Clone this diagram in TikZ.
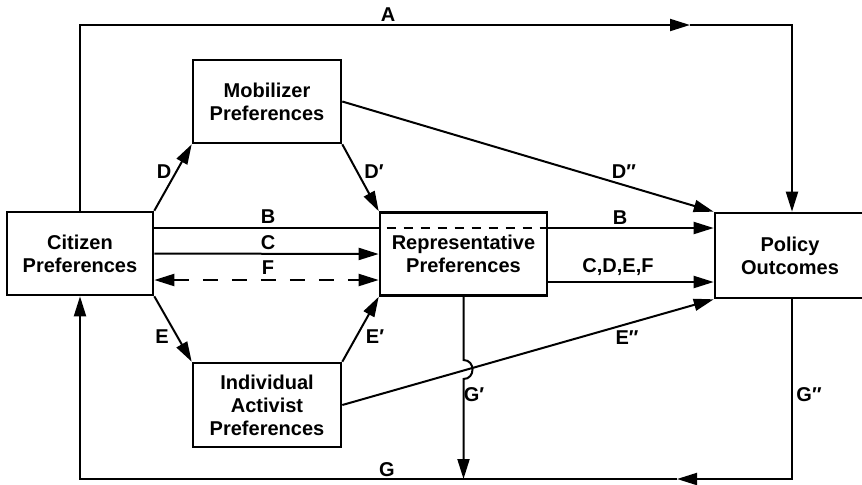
\documentclass[tikz,border=0pt]{standalone}
\usepackage{fontspec}
\setmainfont{Liberation Sans}
\usetikzlibrary{arrows.meta}

\begin{document}
\begin{tikzpicture}[x=0.5pt,y=-0.5pt,
    font=\bfseries\fontsize{10}{11.5}\selectfont,
    box/.style={draw,line width=1.3pt,align=center,minimum height=41.5pt,inner sep=0pt},
    arr/.style={line width=1pt,-{Triangle[length=10pt,width=6pt]}},
    twoarr/.style={line width=1pt,{Triangle[length=10pt,width=6pt]}-{Triangle[length=10pt,width=6pt]}},
    lbl/.style={inner sep=0pt}]
  \useasboundingbox (0,0) rectangle (862,484);
  % boxes
  \node[box,minimum width=73pt] (cit) at (80,253.5) {Citizen\\Preferences};
  \node[box,minimum width=74pt] (mob) at (267,101.5) {Mobilizer\\Preferences};
  \node[box,minimum width=83.5pt] (rep) at (463.5,254) {Representative\\Preferences};
  \node[box,minimum width=74pt,minimum height=42pt] (ind) at (267,405) {Individual\\Activist\\Preferences};
  \node[box,minimum width=75pt,minimum height=42.5pt] (pol) at (790,255.5) {Policy\\Outcomes};
  % corners and levels
  \coordinate (aL) at (80,25);
  \coordinate (aM) at (690,25);
  \coordinate (aR) at (792,25);
  \coordinate (gL) at (80,479);
  \coordinate (gM) at (677,479);
  \coordinate (gR) at (792,479);
  \coordinate (yB) at (0,228);
  \coordinate (yF) at (0,280);
  \coordinate (yX) at (0,282);
  \coordinate (h1) at (0,360);
  \coordinate (h2) at (0,379);
  % A
  \draw[arr] (cit.north -| aL) -- (aL) -- (aM);
  \draw[arr] (aM) -- (aR) -- (pol.north -| aR);
  % D, D', D''
  \draw[arr] (cit.north east) -- (mob.south west);
  \draw[arr] (mob.south east) -- (rep.north west);
  \draw[arr] (mob.east) -- (pol.north west);
  % B, C, F
  \draw[line width=1pt] (cit.east |- yB) -- (rep.west |- yB);
  \draw[line width=1pt,dash pattern=on 4.5pt off 4pt] ([xshift=4pt]rep.west |- yB) -- (rep.east |- yB);
  \draw[arr] (rep.east |- yB) -- (pol.west |- yB);
  \draw[arr] (cit.east) -- (rep.west);
  \draw[twoarr,dash pattern=on 7.5pt off 7pt] (cit.east |- yF) -- (rep.west |- yF);
  \draw[arr] (rep.east |- yX) -- (pol.west |- yX);
  % E, E', E''
  \draw[arr] (cit.south east) -- (ind.north west);
  \draw[arr] (ind.north east) -- (rep.south west);
  \draw[arr] (ind.east) -- (pol.south west);
  % G, G', G''
  \draw[arr] (rep.south) -- (rep.south |- h1) .. controls +(12,0) and +(12,0) .. (rep.south |- h2) -- (rep.south |- gL);
  \draw[arr] (pol.south -| gR) -- (gR) -- (gM);
  \draw[arr] (gM) -- (gL) -- (cit.south -| gL);
  % labels
  \node[lbl] (lA) at (388,15) {A};
  \node[lbl] (lD) at (164,172) {D};
  \node[lbl] (lD1) at (374,172) {D′};
  \node[lbl] (lD2) at (624,172) {D″};
  \node[lbl] (lB) at (268,217) {B};
  \node[lbl] (lC) at (268,243) {C};
  \node[lbl] (lF) at (268,268) {F};
  \node[lbl] (lB2) at (620,218) {B};
  \node[lbl] (lX) at (618,267) {C,D,E,F};
  \node[lbl] (lE) at (162,337) {E};
  \node[lbl] (lE1) at (375,337) {E′};
  \node[lbl] (lE2) at (627,338) {E″};
  \node[lbl] (lG1) at (474,395) {G′};
  \node[lbl] (lG2) at (809,395) {G″};
  \node[lbl] (lG) at (387,470) {G};
\end{tikzpicture}
\end{document}
